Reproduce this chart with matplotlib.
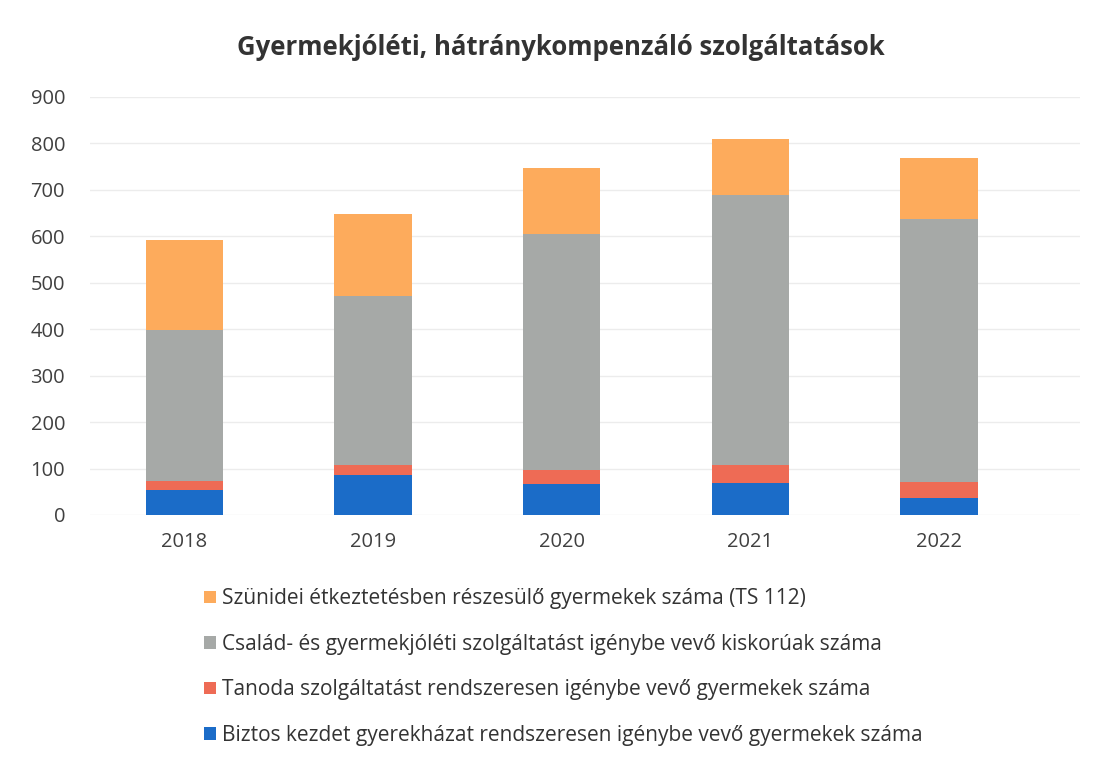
import numpy as np
import matplotlib.pyplot as plt

plt.rcParams['font.family'] = ['Open Sans', 'DejaVu Sans']

years = ['2018', '2019', '2020', '2021', '2022']
biztos = [54, 87, 66, 69, 37]
tanoda = [19, 21, 31, 38, 34]
csalad = [326, 363, 508, 581, 567]
szunidei = [193, 177, 143, 121, 130]

labels = ['Biztos kezdet gyerekházat rendszeresen igénybe vevő gyermekek száma',
          'Tanoda szolgáltatást rendszeresen igénybe vevő gyermekek száma',
          'Család- és gyermekjóléti szolgáltatást igénybe vevő kiskorúak száma',
          'Szünidei étkeztetésben részesülő gyermekek száma (TS 112)']
colors = ['#1b6cc8', '#ee6b55', '#a6a9a7', '#fdab5c']

fig = plt.figure(figsize=(10.99, 7.6), dpi=100)
ax = fig.add_axes([0.082, 0.3224, 0.901, 0.55])

x = np.arange(len(years))
bottom = np.zeros(len(years))
bars = []
for vals, lab, col in zip([biztos, tanoda, csalad, szunidei], labels, colors):
    b = ax.bar(x, vals, 0.41, bottom=bottom, color=col, label=lab, zorder=2)
    bars.append(b)
    bottom += np.array(vals)

ax.set_ylim(0, 900)
ax.set_xlim(-0.5, 4.75)
ax.set_yticks(range(0, 901, 100))
ax.set_xticks(x)
ax.set_xticklabels(years)
ax.grid(axis='y', color='#ececec', linewidth=1, zorder=0)
for s in ax.spines.values():
    s.set_visible(False)
ax.tick_params(axis='both', length=0, labelsize=14.5, colors='#404040')
ax.tick_params(axis='y', pad=18)
ax.tick_params(axis='x', pad=12)

fig.suptitle('Gyermekjóléti, hátránykompenzáló szolgáltatások', x=0.51, y=0.938,
             va='center', fontsize=18.5, fontweight='bold', color='#333333')

fig.legend(bars[::-1], labels[::-1], loc='upper left', bbox_to_anchor=(0.186, 0.226),
           frameon=False, fontsize=15, labelspacing=1.18, handlelength=0.55,
           handleheight=0.55, handletextpad=0.3, borderpad=0, borderaxespad=0,
           labelcolor='#333333')

fig.savefig('out.png', dpi=100)
